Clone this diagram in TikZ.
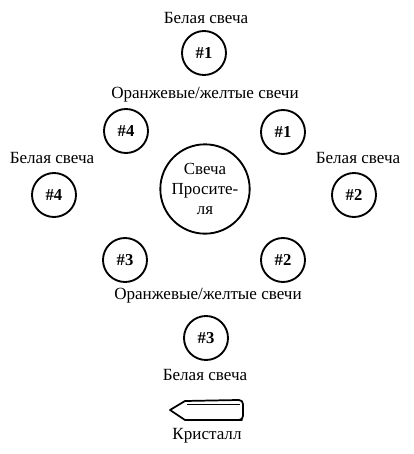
\documentclass[tikz,border=0pt]{standalone}
\usepackage{fontspec}
\setmainfont{Liberation Serif}
\tikzset{
 cand/.style={circle,draw=black,line width=1.4pt,minimum size=33pt,inner sep=0pt,font=\fontsize{12.5pt}{14pt}\selectfont\bfseries},
 lab/.style={font=\fontsize{12.8pt}{15pt}\selectfont,inner sep=0pt},
 crystal/.style={line width=1.3pt,line join=round}
}
\begin{document}
\begin{tikzpicture}[x=0.75pt,y=-0.75pt]
\useasboundingbox (0,0) rectangle (414,454);
\node[lab] (t1) at (206,18) {Белая свеча};
\node[cand] (w1) at (204,53) {\#1};
\node[lab] (o1) at (205,95) {Оранжевые/желтые свечи};
\node[cand] (y4) at (126,131) {\#4};
\node[cand] (y1) at (283,132) {\#1};
\node[lab] (t4) at (52,158) {Белая свеча};
\node[lab] (t2) at (358,158) {Белая свеча};
\node[cand] (w4) at (54,195) {\#4};
\node[cand] (w2) at (354,195) {\#2};
\node[circle,draw=black,line width=1.4pt,minimum size=67pt,inner sep=0pt,align=center,font=\fontsize{12.7pt}{15pt}\selectfont] (c) at (205,189) {Свеча\\Просите-\\ля};
\node[cand] (y3) at (125,260) {\#3};
\node[cand] (y2) at (283,260) {\#2};
\node[lab] (o2) at (208,296) {Оранжевые/желтые свечи};
\node[cand] (w3) at (206,338) {\#3};
\node[lab] (t3) at (205,375) {Белая свеча};
\node[lab] (k) at (207,436) {Кристалл};
\coordinate (tip) at (170,410);
\draw[crystal] (tip) -- (185,401) -- (238,400) [rounded corners=3pt] -- (243,400) -- (243,420) -- (238,420) [sharp corners] -- (185,420) -- cycle;
\draw[line width=0.5pt] (187,404) -- (240,404);
\end{tikzpicture}
\end{document}
